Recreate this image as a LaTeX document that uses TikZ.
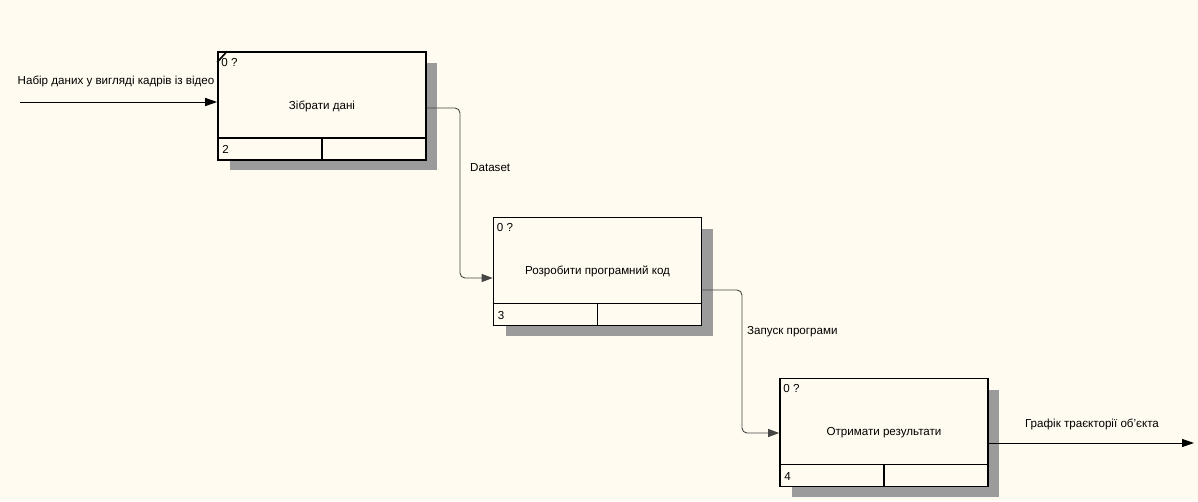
\documentclass[tikz,border=0pt]{standalone}
\usepackage{fontspec}
\setmainfont{Liberation Sans}
\usetikzlibrary{arrows.meta,calc}
\definecolor{paper}{RGB}{255,251,240}
\definecolor{shade}{RGB}{155,155,155}
\definecolor{wire}{RGB}{70,70,70}
\tikzset{
  act/.style={draw=black, line width=1.6pt, fill=paper, minimum width=208pt,
    minimum height=108pt, inner sep=0pt,
    font=\fontsize{11.6}{13}\selectfont},
  shadowbox/.style={fill=shade, draw=none},
  tag/.style={font=\fontsize{11.6}{13}\selectfont, inner sep=0pt},
  flow/.style={draw=wire, line width=0.9pt, rounded corners=5pt,
    -{Triangle[length=11pt,width=8pt]}},
  edge/.style={draw=black, line width=1pt, -{Triangle[length=12pt,width=8pt]}}
}
\begin{document}
\begin{tikzpicture}[x=1pt,y=-1pt]
  \useasboundingbox (0,0) rectangle (1198,501);
  \fill[paper] (0,0) rectangle (1198,501);

  % activity boxes with offset shadows
  \foreach \cx/\cy in {322/106, 597.5/271.5, 884/432.5}{
    \fill[shadowbox] (\cx-104+12,\cy-54+11) rectangle (\cx+104+11,\cy+54+10);
  }
  \node[act] (b1) at (322,106) {Зібрати дані};
  \node[act] (b2) at (597.5,271.5) {Розробити програмний код};
  \node[act] (b3) at (884,432.5) {Отримати результати};

  % bottom strips: node number and empty cell; corner label
  \foreach \b/\n in {b1/2, b2/3, b3/4}{
    \draw[line width=1.6pt] ([yshift=23]\b.south west) -- ([yshift=23]\b.south east);
    \draw[line width=1.6pt] ([yshift=23]\b.south) -- (\b.south);
    \node[tag, anchor=west] (n\b) at ([xshift=5,yshift=11]\b.south west) {\n};
    \node[tag, anchor=west] (c\b) at ([xshift=4,yshift=-11]\b.north west) {0 ?};
  }
  \draw[line width=1.6pt] ([yshift=-11]b1.north west) -- ([xshift=10]b1.north west);

  % external input and output
  \coordinate (src) at (20,102);
  \coordinate (dst) at (1194,443);
  \draw[edge] (src) -- (src -| b1.west);
  \draw[edge] (b3.east |- dst) -- (dst);
  \node[tag] (lin) at (116,81) {Набір даних у вигляді кадрів із відео};
  \node[tag] (lout) at (1092,424) {Графік траєкторії об'єкта};

  % links between activities
  \coordinate (j1) at (460,190);
  \coordinate (j2) at (742,360);
  \draw[flow] ([yshift=-2]b1.east) -| (j1) |- ([yshift=-6.5]b2.west);
  \draw[flow] ([yshift=-18.5]b2.east) -| (j2) |- ([yshift=-0.5]b3.west);
  \node[tag, anchor=west] (l1) at (470,168) {Dataset};
  \node[tag, anchor=west] (l2) at (747,332) {Запуск програми};
\end{tikzpicture}
\end{document}
